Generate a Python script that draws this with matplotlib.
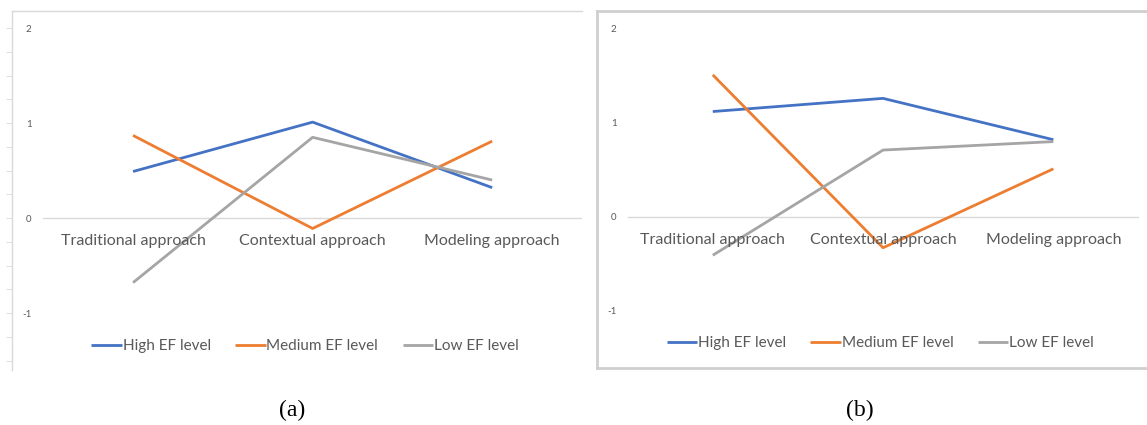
import numpy as np
import matplotlib
matplotlib.use("Agg")
import matplotlib.pyplot as plt
from matplotlib.ticker import MultipleLocator

# データ
categories = ["Traditional approach", "Contextual approach", "Modeling approach"]
series_names = ["High EF level", "Medium EF level", "Low EF level"]
colors = ["#4472C4", "#ED7D31", "#A5A5A5"]

high_a = [0.49, 1.01, 0.32]
medium_a = [0.87, -0.11, 0.81]
low_a = [-0.68, 0.85, 0.40]

high_b = [1.12, 1.26, 0.82]
medium_b = [1.51, -0.33, 0.51]
low_b = [-0.41, 0.71, 0.80]

yticks = [-1, 0, 1, 2]
captions = ["(a)", "(b)"]

plt.rcParams['font.family'] = ['Lato', 'DejaVu Sans']

W, H = 1147, 425
fig = plt.figure(figsize=(W / 100, H / 100), dpi=100)


def px_axes(left, top, right, bottom):
    # ピクセル指定で軸を配置
    return fig.add_axes([left / W, 1 - bottom / H, (right - left) / W, (bottom - top) / H])


def draw_panel(ax, series, xlim, ylim, frame_color, frame_lw, minor_ticks, legend_pos):
    x = np.arange(len(categories))
    ax.set_xlim(*xlim)
    ax.set_ylim(*ylim)
    # ゼロ線（カテゴリ軸の範囲）
    ax.plot([x[0] - 0.5, x[-1] + 0.5], [0, 0], color="#d9d9d9", lw=1, zorder=1)
    for name, vals, c in zip(series_names, series, colors):
        ax.plot(x, vals, color=c, lw=2.0, label=name, solid_capstyle="butt", zorder=3)
    for i, cat in enumerate(categories):
        ax.annotate(cat, (x[i], 0), xytext=(0, -16.5), textcoords="offset points",
                    ha="center", va="center", fontsize=11.5, color="#595959")

    ax.set_xticks([])
    ax.set_yticks(yticks)
    ax.set_yticklabels([str(t) for t in yticks])
    ax.tick_params(axis="y", which="major", length=0, pad=-14, labelsize=7, labelcolor="#595959")
    if minor_ticks:
        ax.yaxis.set_minor_locator(MultipleLocator(0.25))
        ax.yaxis.remove_overlapping_locs = False
        ax.tick_params(axis="y", which="minor", length=4, direction="out", color="#d9d9d9")

    for side in ["right", "bottom"]:
        ax.spines[side].set_visible(False)
    for side in ["left", "top"]:
        ax.spines[side].set_color(frame_color)
        ax.spines[side].set_linewidth(frame_lw)

    leg = ax.legend(loc="center", bbox_to_anchor=legend_pos, ncol=3, frameon=False,
                    fontsize=11, handlelength=2.0, handletextpad=0.05, columnspacing=1.6)
    for t in leg.get_texts():
        t.set_color("#595959")
    return ax


ax_a = px_axes(12, 11, 582, 370)
draw_panel(ax_a, [high_a, medium_a, low_a], (-0.674, 2.5), (-1.6, 2.18),
           "#d9d9d9", 1.0, True, (0.514, 0.067))

ax_b = px_axes(597, 11, 1147, 368)
draw_panel(ax_b, [high_b, medium_b, low_b], (-0.68, 2.55), (-1.61, 2.19),
           "#cfcfcf", 2.0, False, (0.515, 0.07))
ax_b.spines["bottom"].set_visible(True)
ax_b.spines["bottom"].set_color("#cfcfcf")
ax_b.spines["bottom"].set_linewidth(2.0)

for cap, xc in zip(captions, [292, 860]):
    fig.text(xc / W, 1 - 410 / H, cap, ha="center", va="center",
             fontsize=17, family="Liberation Serif")

fig.savefig("out.png", dpi=100)
